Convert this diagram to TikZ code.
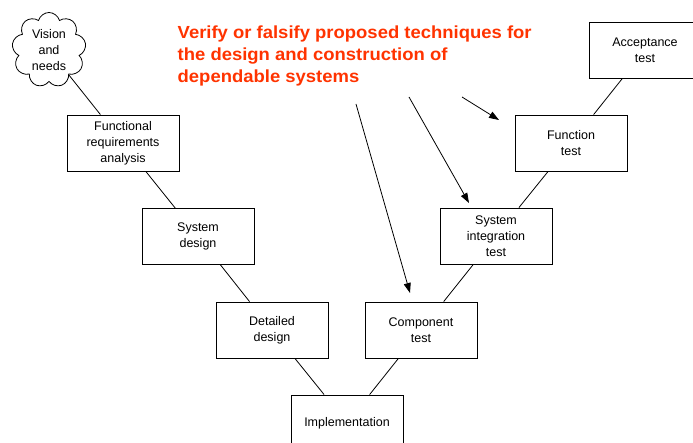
\documentclass[tikz,border=0pt]{standalone}
\usepackage{fontspec}
\setmainfont{Liberation Sans}
\newfontfamily\titlefont[FakeStretch=1.055]{Liberation Sans}
\usetikzlibrary{arrows.meta,shapes.symbols}
\definecolor{titlered}{RGB}{255,51,0}
\tikzset{
  vbox/.style={draw, line width=0.8pt, minimum width=112pt, minimum height=56pt, inner sep=0pt,
    align=center, font=\fontsize{12.5}{16}\selectfont},
  vlink/.style={line width=0.8pt},
  varrow/.style={line width=0.8pt, -{Triangle[length=10pt,width=7pt]}},
}
\begin{document}
\begin{tikzpicture}[x=1pt,y=-1pt]
\useasboundingbox (0,0) rectangle (693,443);
\clip (0,0) rectangle (693,443);
\node[cloud, draw, line width=0.8pt, cloud puffs=9, aspect=1, inner sep=0pt,
  minimum width=74pt, minimum height=75pt, align=center,
  font=\fontsize{12.5}{16}\selectfont] (vision) at (49,50) {Vision\\and\\needs};
\node[vbox] (fra) at (123,143) {Functional\\requirements\\analysis};
\node[vbox] (sd) at (198,236.5) {System\\design};
\node[vbox] (dd) at (272,330) {Detailed\\design};
\node[vbox] (impl) at (347,423) {Implementation};
\node[vbox] (ct) at (421,330) {Component\\test};
\node[vbox] (sit) at (496,236) {System\\integration\\test};
\node[vbox] (ft) at (571,143) {Function\\test};
\node[vbox] (at) at (645,50) {Acceptance\\test};
\draw[vlink] (vision) -- (fra);
\draw[vlink] (fra) -- (sd);
\draw[vlink] (sd) -- (dd);
\draw[vlink] (dd) -- (impl);
\draw[vlink] (impl) -- (ct);
\draw[vlink] (ct) -- (sit);
\draw[vlink] (sit) -- (ft);
\draw[vlink] (ft) -- (at);
\node[anchor=north west, inner sep=0pt, align=left, text=titlered,
  font=\titlefont\fontsize{17.5}{22}\selectfont\bfseries] (title) at (177.5,25.8)
  {Verify or falsify proposed techniques for\\the design and construction of\\dependable systems};
\coordinate (a1s) at (356,104);
\coordinate (a1e) at (410,293);
\coordinate (a2s) at (409,97);
\coordinate (a2e) at (469,203);
\coordinate (a3s) at (462,97);
\coordinate (a3e) at (499,120);
\draw[varrow] (a1s) -- (a1e);
\draw[varrow] (a2s) -- (a2e);
\draw[varrow] (a3s) -- (a3e);
\end{tikzpicture}
\end{document}
